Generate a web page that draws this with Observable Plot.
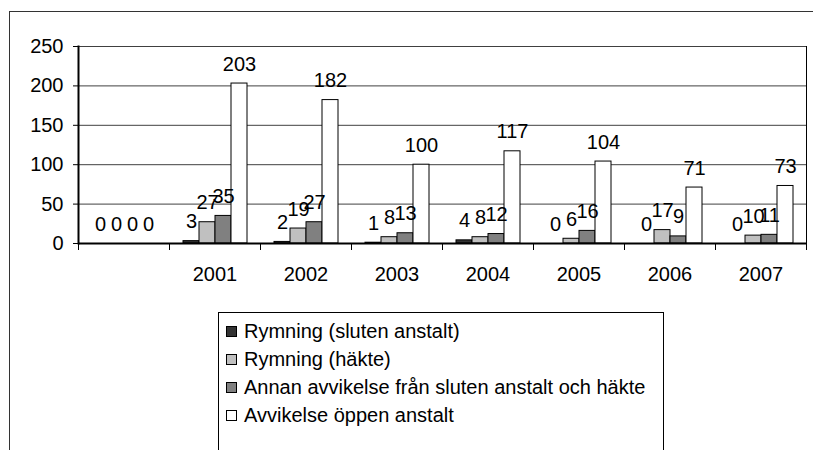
<!DOCTYPE html>
<html>
<head>
<meta charset="utf-8">
<script src="https://cdn.jsdelivr.net/npm/d3@7"></script>
<script src="https://cdn.jsdelivr.net/npm/@observablehq/plot@0.6"></script>
<style>
  html, body { margin: 0; padding: 0; background: #fff; width: 813px; height: 450px; overflow: hidden; }
  body { position: relative; font-family: "Liberation Sans", Arial, sans-serif; }
  #outer { position: absolute; left: 9px; top: 11px; width: 820px; height: 460px; border-left: 1px solid #333; border-top: 1px solid #333; }
  #chart { position: absolute; left: 0; top: 0; }
  #legend { position: absolute; left: 218px; top: 312px; width: 444px; height: 160px; border: 1px solid #000; background: #fff; }
  .row { position: absolute; left: 7px; height: 28px; display: flex; align-items: center; font-size: 20px; color: #000; white-space: nowrap; }
  .sw { width: 9px; height: 9px; border: 1px solid #000; margin-right: 7px; }
</style>
</head>
<body>
<div id="outer"></div>
<div id="chart"></div>
<div id="legend"></div>
<script>
const categories = ["", "2001", "2002", "2003", "2004", "2005", "2006", "2007"];
const series = [
  "Rymning (sluten anstalt)",
  "Rymning (häkte)",
  "Annan avvikelse från sluten anstalt och häkte",
  "Avvikelse öppen anstalt"
];
const rymningSluten = [0, 3, 2, 1, 4, 0, 0, 0];
const rymningHakte  = [0, 27, 19, 8, 8, 6, 17, 10];
const annanAvvikelse = [0, 35, 27, 13, 12, 16, 9, 11];
const avvikelseOppen = [0, 203, 182, 100, 117, 104, 71, 73];
const yTicks = [0, 50, 100, 150, 200, 250];
const colors = ["#333333", "#c0c0c0", "#808080", "#ffffff"];

const seriesValues = [rymningSluten, rymningHakte, annanAvvikelse, avvikelseOppen];
const data = [];
categories.forEach((c, i) => {
  series.forEach((s, j) => data.push({category: c, series: s, value: seriesValues[j][i]}));
});

const chart = Plot.plot({
  width: 813,
  height: 300,
  marginLeft: 78,
  marginRight: 7,
  marginTop: 46,
  marginBottom: 57,
  style: {fontFamily: "'Liberation Sans', Arial, sans-serif", fontSize: "20px", color: "#000", background: "transparent"},
  fx: {domain: categories, padding: 0, label: null, axis: null},
  x: {domain: series, paddingInner: 0, paddingOuter: 0.76, axis: null},
  y: {domain: [0, 250], axis: null},
  color: {domain: series, range: colors},
  marks: [
    Plot.gridY(yTicks.filter(d => d > 0), {stroke: "#404040", strokeOpacity: 1, strokeWidth: 1}),
    Plot.barY(data, {fx: "category", x: "series", y: "value", fill: "series", stroke: "#000", strokeWidth: 1}),
    Plot.ruleY([0], {stroke: "#000", strokeWidth: 2}),
    Plot.frame({anchor: "left", insetTop: 197, insetBottom: -6, stroke: "#000"}),
    Plot.frame({anchor: "right", facet: "super", insetBottom: -6, stroke: "#000"}),
    Plot.frame({anchor: "left", facet: "super", stroke: "#000", strokeWidth: 2}),
    Plot.axisY({ticks: yTicks, tickSize: 5, tickPadding: 10, fontSize: 20, anchor: "left", label: null}),
    Plot.axisFx({anchor: "bottom", tickSize: 0, tickPadding: 23, fontSize: 20, label: null}),
    Plot.text(data, {fx: "category", x: "series", y: "value", text: d => String(d.value), dy: -13, lineAnchor: "bottom", fontSize: 20, fill: "#000"})
  ]
});
document.getElementById("chart").appendChild(chart);

const legend = document.getElementById("legend");
series.forEach((s, i) => {
  const row = document.createElement("div");
  row.className = "row";
  row.style.top = (4 + i * 28) + "px";
  const sw = document.createElement("div");
  sw.className = "sw";
  sw.style.background = colors[i];
  const t = document.createElement("span");
  t.textContent = s;
  row.appendChild(sw);
  row.appendChild(t);
  legend.appendChild(row);
});
</script>
</body>
</html>
